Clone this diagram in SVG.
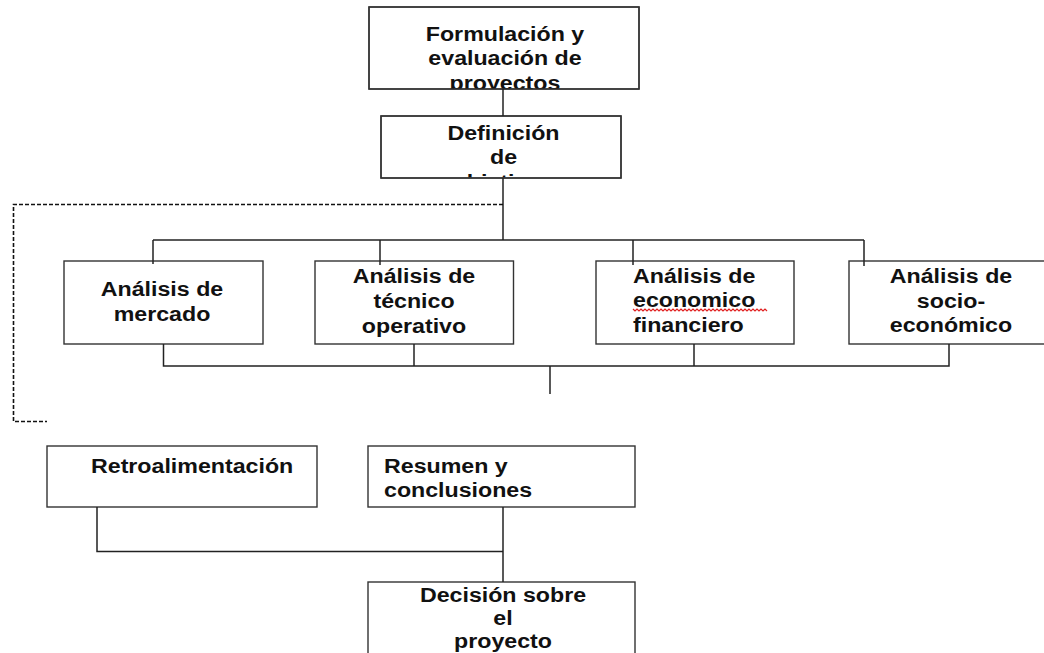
<svg xmlns="http://www.w3.org/2000/svg" width="1044" height="653" viewBox="0 0 1044 653">
  <style>
    .box { fill: #ffffff; stroke: #333333; stroke-width: 1.4; }
    .lbl { font-family: "Liberation Sans", Arial, sans-serif; font-size: 20px; font-weight: bold; fill: #111111; }
    .mid { text-anchor: middle; }
    .wire { fill: none; stroke: #222222; stroke-width: 1.5; }
    .dash { fill: none; stroke: #111111; stroke-width: 1.6; stroke-dasharray: 4 2; }
    .spell { fill: none; stroke: #e02020; stroke-width: 1.2; }
  </style>
  <defs>
    <clipPath id="clipTop"><rect x="369" y="7" width="270" height="82"/></clipPath>
    <clipPath id="clipDef"><rect x="381" y="116" width="240" height="61.5"/></clipPath>
  </defs>

  <rect width="1044" height="653" fill="#ffffff"/>

  <g id="node-formulacion">
    <rect class="box" x="369" y="7" width="270" height="82"/>
    <g clip-path="url(#clipTop)">
      <text class="lbl mid" transform="translate(505,41) scale(1.16,1)">Formulación y</text>
      <text class="lbl mid" transform="translate(505,64.5) scale(1.16,1)">evaluación de</text>
      <text class="lbl mid" transform="translate(505,89.5) scale(1.16,1)">proyectos</text>
    </g>
    <rect x="369" y="7" width="270" height="82" fill="none" stroke="#333333" stroke-width="1.4"/>
  </g>

  <g id="node-definicion">
    <rect class="box" x="381" y="116" width="240" height="62"/>
    <g clip-path="url(#clipDef)">
      <text class="lbl mid" transform="translate(503.5,140) scale(1.16,1)">Definición</text>
      <text class="lbl mid" transform="translate(503.5,163.5) scale(1.16,1)">de</text>
      <text class="lbl mid" transform="translate(503.5,189) scale(1.16,1)">objetivos</text>
    </g>
    <rect x="381" y="116" width="240" height="62" fill="none" stroke="#333333" stroke-width="1.4"/>
  </g>

  <g id="node-mercado">
    <rect class="box" x="64" y="261" width="199" height="83"/>
    <text class="lbl mid" transform="translate(162,296) scale(1.16,1)">Análisis de</text>
    <text class="lbl mid" transform="translate(162,321) scale(1.16,1)">mercado</text>
  </g>

  <g id="node-tecnico">
    <rect class="box" x="315" y="261" width="198.5" height="83"/>
    <text class="lbl mid" transform="translate(414,283) scale(1.16,1)">Análisis de</text>
    <text class="lbl mid" transform="translate(414,308) scale(1.16,1)">técnico</text>
    <text class="lbl mid" transform="translate(414,333) scale(1.16,1)">operativo</text>
  </g>

  <g id="node-economico">
    <rect class="box" x="596" y="261" width="198" height="83"/>
    <text class="lbl" transform="translate(633,282.5) scale(1.16,1)">Análisis de</text>
    <text class="lbl" transform="translate(633,307) scale(1.16,1)">economico</text>
    <text class="lbl" transform="translate(633,332) scale(1.16,1)">financiero</text>
    <!-- spell-check wave under "economico" -->
    <path class="spell" d="M633 309 l2 2 l2 -2 l2 2 l2 -2 l2 2 l2 -2 l2 2 l2 -2 l2 2 l2 -2 l2 2 l2 -2 l2 2 l2 -2 l2 2 l2 -2 l2 2 l2 -2 l2 2 l2 -2 l2 2 l2 -2 l2 2 l2 -2 l2 2 l2 -2 l2 2 l2 -2 l2 2 l2 -2 l2 2 l2 -2 l2 2 l2 -2 l2 2 l2 -2 l2 2 l2 -2 l2 2 l2 -2 l2 2 l2 -2 l2 2 l2 -2 l2 2 l2 -2 l2 2 l2 -2 l2 2 l2 -2 l2 2 l2 -2 l2 2 l2 -2 l2 2 l2 -2 l2 2 l2 -2 l2 2 l2 -2 l2 2 l2 -2 l2 2 l2 -2 l2 2 l2 -2 l2 2"/>
  </g>

  <g id="node-socio">
    <rect class="box" x="849" y="261" width="205" height="83"/>
    <text class="lbl mid" transform="translate(951,283) scale(1.16,1)">Análisis de</text>
    <text class="lbl mid" transform="translate(951,307.5) scale(1.16,1)">socio-</text>
    <text class="lbl mid" transform="translate(951,332) scale(1.16,1)">económico</text>
  </g>

  <g id="node-retro">
    <rect class="box" x="47" y="446" width="270" height="61"/>
    <text class="lbl" transform="translate(91,473) scale(1.16,1)">Retroalimentación</text>
  </g>

  <g id="node-resumen">
    <rect class="box" x="368" y="446" width="267" height="61"/>
    <text class="lbl" transform="translate(384,473) scale(1.16,1)">Resumen y</text>
    <text class="lbl" transform="translate(384,496.5) scale(1.16,1)">conclusiones</text>
  </g>

  <g id="node-decision">
    <rect class="box" x="368" y="582" width="267" height="80"/>
    <text class="lbl mid" transform="translate(503,602) scale(1.16,1)">Decisión sobre</text>
    <text class="lbl mid" transform="translate(503,625) scale(1.16,1)">el</text>
    <text class="lbl mid" transform="translate(503,647.5) scale(1.16,1)">proyecto</text>
  </g>

  <g id="connectors">
    <!-- main spine -->
    <path class="wire" d="M503 89 V116"/>
    <path class="wire" d="M503 178 V240"/>
    <!-- upper bus to the four analyses -->
    <path class="wire" d="M153 240 H864"/>
    <path class="wire" d="M153 240 V264"/>
    <path class="wire" d="M380 240 V265"/>
    <path class="wire" d="M633 240 V265"/>
    <path class="wire" d="M864 240 V266"/>
    <!-- lower bus collecting the analyses -->
    <path class="wire" d="M163.5 344 V366 H949 V344"/>
    <path class="wire" d="M414 344 V366"/>
    <path class="wire" d="M694 344 V366"/>
    <path class="wire" d="M550 366 V394"/>
    <!-- feedback loop -->
    <path class="dash" d="M503 204.5 H13.5 V421.5 H47"/>
    <!-- bottom join -->
    <path class="wire" d="M97 507 V551.5 H503"/>
    <path class="wire" d="M503 507 V582"/>
  </g>
</svg>
